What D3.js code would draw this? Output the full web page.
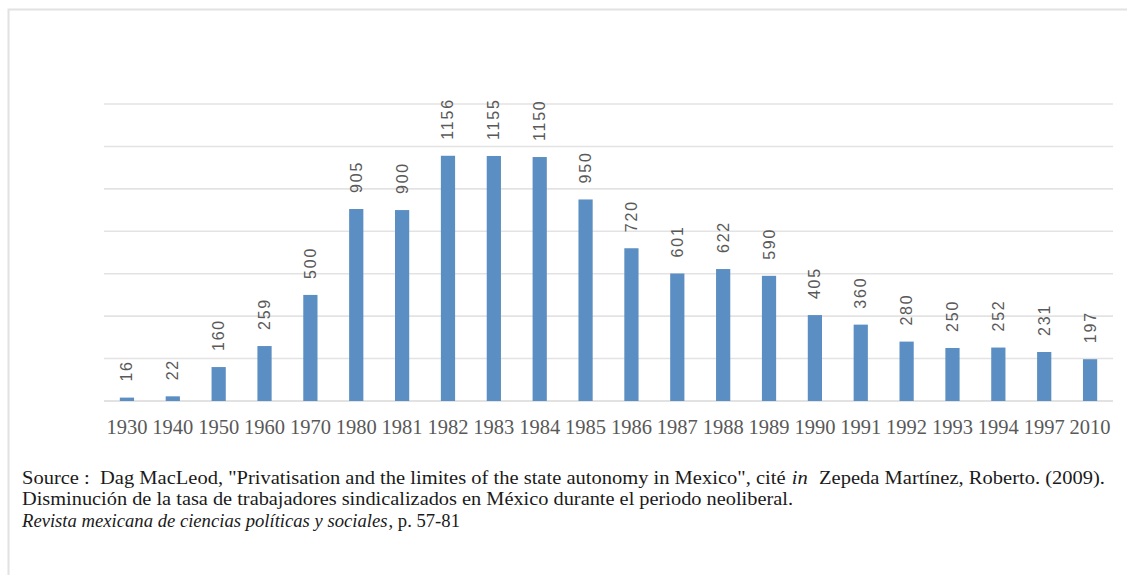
<!DOCTYPE html>
<html>
<head>
<meta charset="utf-8">
<script src="https://cdn.jsdelivr.net/npm/d3@7"></script>
<style>
  html, body { margin: 0; padding: 0; background: #fff; }
  svg { display: block; }
</style>
</head>
<body>
<svg id="chart" width="1127" height="575"></svg>
<script>
const categories = ["1930","1940","1950","1960","1970","1980","1981","1982","1983","1984","1985","1986","1987","1988","1989","1990","1991","1992","1993","1994","1997","2010"];
const values = [16,22,160,259,500,905,900,1156,1155,1150,950,720,601,622,590,405,360,280,250,252,231,197];
const gridTicks = [0,200,400,600,800,1000,1200,1400];

const svg = d3.select("#chart");
const W = 1127, H = 575;
const plot = { left: 104, right: 1113, top: 104, bottom: 401 };

// frame
svg.append("path")
  .attr("d", `M8.5,${H} L8.5,9.5 L${W},9.5`)
  .attr("fill", "none").attr("stroke", "#e2e2e2").attr("stroke-width", 2);

const x = d3.scaleBand().domain(categories).range([plot.left, plot.right]).paddingInner(0.69).paddingOuter(0.345);
const y = d3.scaleLinear().domain([0, 1400]).range([plot.bottom, plot.top]);

// gridlines
svg.append("g").selectAll("line").data(gridTicks).join("line")
  .attr("x1", plot.left).attr("x2", plot.right)
  .attr("y1", d => y(d)).attr("y2", d => y(d))
  .attr("stroke", d => d === 0 ? "#d9d9d9" : "#e3e3e3").attr("stroke-width", 1.6);

// bars
svg.append("g").selectAll("rect").data(values).join("rect")
  .attr("x", (d, i) => x(categories[i]))
  .attr("width", x.bandwidth())
  .attr("y", d => y(d))
  .attr("height", d => plot.bottom - y(d))
  .attr("fill", "#5b8ec2");

// value labels
svg.append("g").selectAll("text").data(values).join("text")
  .attr("transform", (d, i) => `translate(${x(categories[i]) + x.bandwidth() / 2 + 5.5},${y(d) - 16}) rotate(-90)`)
  .attr("text-anchor", "start")
  .attr("font-family", "'Liberation Sans', Arial, sans-serif")
  .attr("font-size", 16)
  .attr("letter-spacing", 1.8)
  .attr("fill", "#595959")
  .text(d => d);

// x axis labels
const xAxis = d3.axisBottom(x).tickSize(0).tickPadding(0);
const gx = svg.append("g").attr("transform", `translate(0,${plot.bottom})`).call(xAxis);
gx.select(".domain").remove();
gx.selectAll("text")
  .attr("y", 33).attr("dy", 0)
  .attr("font-family", "'Liberation Serif', 'Times New Roman', serif")
  .attr("font-size", 20.5)
  .attr("fill", "#595959");

// source text
const srcFont = "'Liberation Serif', 'Times New Roman', serif";
const lines = [
  { y: 484, end: 1105, parts: [["Source :  Dag MacLeod, \"Privatisation and the limites of the state autonomy in Mexico\", cité ", false], ["in", true], ["  Zepeda Martínez, Roberto. (2009).", false]] },
  { y: 505, end: 793, parts: [["Disminución de la tasa de trabajadores sindicalizados en México durante el periodo neoliberal.", false]] },
  { y: 527, end: 460, parts: [["Revista mexicana de ciencias políticas y sociales", true], [", p. 57-81", false]] }
];
lines.forEach(l => {
  const t = svg.append("text")
    .attr("x", 22).attr("y", l.y)
    .attr("font-family", srcFont).attr("font-size", 18.5)
    .attr("fill", "#1a1a1a")
    .attr("xml:space", "preserve")
    .style("white-space", "pre");
  l.parts.forEach((p, j) => {
    t.append("tspan")
      .attr("font-style", p[1] ? "italic" : "normal")
      .attr("dx", j > 0 ? 1 : 0)
      .text(p[0]);
  });
  t.attr("textLength", l.end - 22).attr("lengthAdjust", "spacingAndGlyphs");
});
</script>
</body>
</html>
